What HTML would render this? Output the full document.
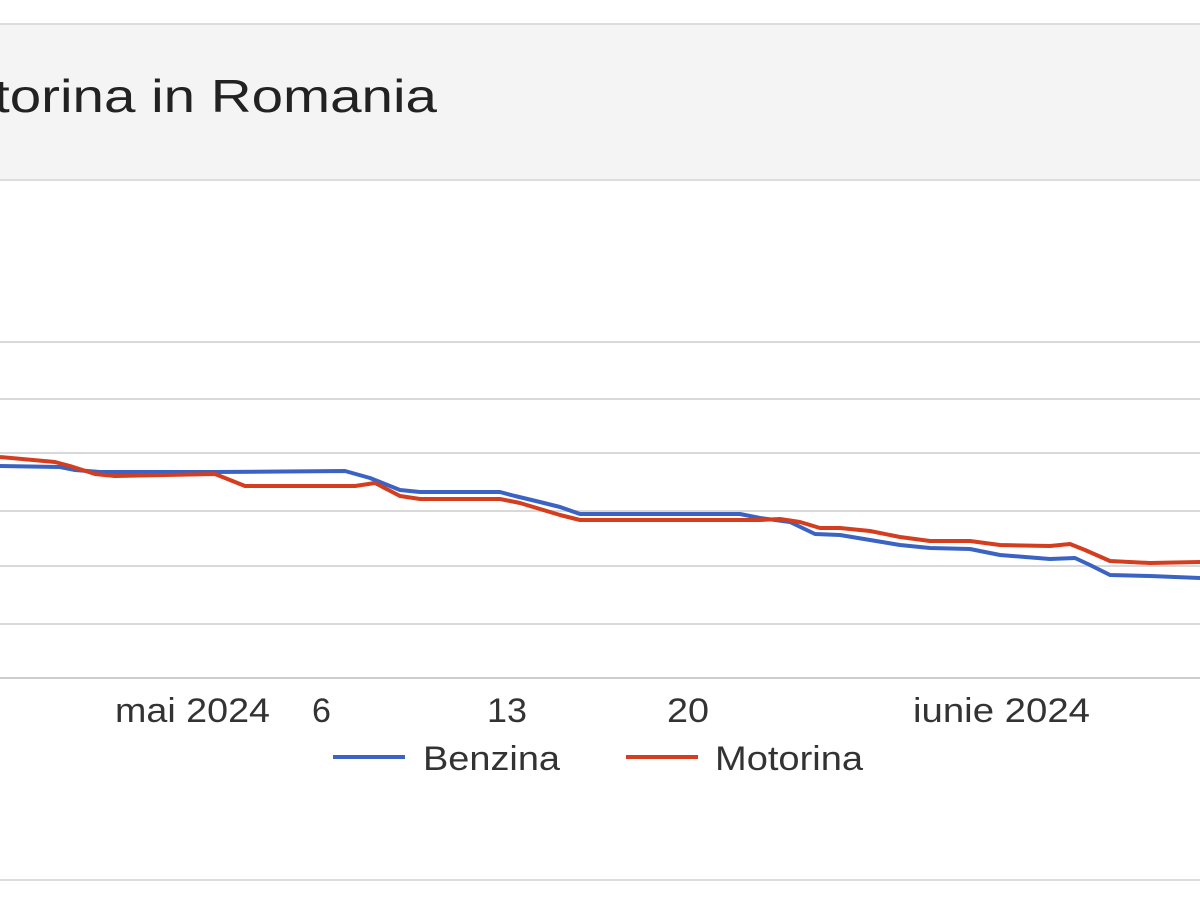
<!DOCTYPE html>
<html><head><style>body{margin:0;background:#fff}svg{display:block}</style></head><body>
<svg width="1200" height="900" xmlns="http://www.w3.org/2000/svg" font-family="Liberation Sans, sans-serif">
<rect x="0" y="24" width="1200" height="156" fill="#f4f4f4"/>
<line x1="0" y1="24" x2="1200" y2="24" stroke="#ddd" stroke-width="2"/>
<line x1="0" y1="180" x2="1200" y2="180" stroke="#ddd" stroke-width="2"/>
<text x="-6" y="112" font-size="46" fill="#222" textLength="443" lengthAdjust="spacingAndGlyphs">torina in Romania</text>
<g stroke="#d9d9d9" stroke-width="2">
<line x1="0" y1="342" x2="1200" y2="342"/><line x1="0" y1="399" x2="1200" y2="399"/>
<line x1="0" y1="453" x2="1200" y2="453"/><line x1="0" y1="511" x2="1200" y2="511"/>
<line x1="0" y1="566" x2="1200" y2="566"/><line x1="0" y1="624" x2="1200" y2="624"/>
<line x1="0" y1="678" x2="1200" y2="678" stroke="#ccc"/>
</g>
<line x1="0" y1="880" x2="1200" y2="880" stroke="#ddd" stroke-width="2"/>
<polyline fill="none" stroke="#3a63c4" stroke-width="4" stroke-linejoin="round" points="0,466 60,467 75,470 100,472 215,472 345,471 370,478 400,490 420,492 500,492 515,496 540,502 560,507 580,514 740,514 760,518 790,522 815,534 840,535 870,540 900,545 930,548 970,549 1000,555 1050,559 1075,558 1090,565 1110,575 1150,576 1200,578"/>
<polyline fill="none" stroke="#d43d1e" stroke-width="4" stroke-linejoin="round" points="0,457 55,462 70,466 95,474 115,476 215,474 245,486 355,486 375,483 400,496 420,499 500,499 520,503 560,515 580,520 760,520 780,519 800,522 820,528 840,528 870,531 900,537 930,541 970,541 1000,545 1050,546 1070,544 1085,550 1110,561 1150,563 1200,562"/>
<g font-size="34" fill="#333">
<text x="115" y="722" textLength="155" lengthAdjust="spacingAndGlyphs">mai 2024</text><text x="312" y="722">6</text>
<text x="487" y="722" textLength="40" lengthAdjust="spacingAndGlyphs">13</text><text x="667" y="722" textLength="42" lengthAdjust="spacingAndGlyphs">20</text>
<text x="913" y="722" textLength="177" lengthAdjust="spacingAndGlyphs">iunie 2024</text>
<text x="423" y="770" textLength="137" lengthAdjust="spacingAndGlyphs">Benzina</text><text x="715" y="770" textLength="148" lengthAdjust="spacingAndGlyphs">Motorina</text>
</g>
<line x1="333" y1="757" x2="405" y2="757" stroke="#3a63c4" stroke-width="4"/>
<line x1="626" y1="757" x2="698" y2="757" stroke="#d43d1e" stroke-width="4"/>
</svg>
</body></html>
